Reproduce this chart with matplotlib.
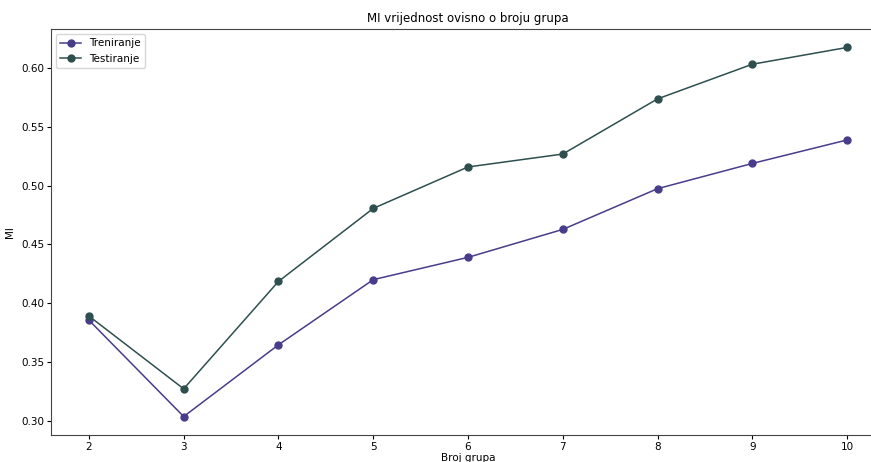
import matplotlib.pyplot as plt

# broj grupa i MI vrijednosti
broj_grupa = [2, 3, 4, 5, 6, 7, 8, 9, 10]
mi_train = [0.3855, 0.3034, 0.3645, 0.4200, 0.4390, 0.4628, 0.4975, 0.5190, 0.5390]
mi_test = [0.3890, 0.3270, 0.4185, 0.4807, 0.5160, 0.5270, 0.5740, 0.6035, 0.6178]

plt.rcParams['font.size'] = 7.5

fig = plt.figure(figsize=(8.71, 4.62), dpi=100)
ax = fig.add_axes([51 / 871, 27 / 462, 834 / 871, 406 / 462])

ax.plot(broj_grupa, mi_train, 'o-', color='#483d8b', markersize=5, linewidth=1.1, label='Treniranje')
ax.plot(broj_grupa, mi_test, 'o-', color='#2f4f4f', markersize=5, linewidth=1.1, label='Testiranje')

ax.set_title('MI vrijednost ovisno o broju grupa', fontsize=8.5, pad=5)
ax.set_xlabel('Broj grupa', labelpad=1)
ax.set_ylabel('MI', labelpad=4)
ax.tick_params(length=3, pad=2)
ax.legend(loc='upper left', fontsize=7.5)

for s in ax.spines.values():
    s.set_color('#444444')

fig.savefig('out.png', dpi=100)
